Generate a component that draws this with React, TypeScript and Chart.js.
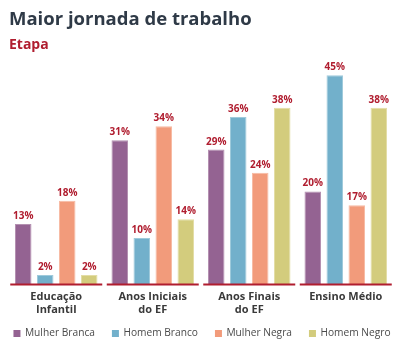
import React, { useEffect, useRef } from "react";
import { Chart, registerables } from "chart.js";

Chart.register(...registerables);

const categories: string[][] = [
  ["Educação", "Infantil"],
  ["Anos Iniciais", "do EF"],
  ["Anos Finais", "do EF"],
  ["Ensino Médio"],
];
const mulherBranca = [13, 31, 29, 20];
const homemBranco = [2, 10, 36, 45];
const mulherNegra = [18, 34, 24, 17];
const homemNegro = [2, 14, 38, 38];
const seriesNames = ["Mulher Branca", "Homem Branco", "Mulher Negra", "Homem Negro"];
const title = "Maior jornada de trabalho";
const subtitle = "Etapa";

const FONT = "'Open Sans', Lato, sans-serif";
const RED = "#b01d2f";

const fills = ["#946392", "#72b0cb", "#f29b7b", "#d3cc7d"];
const borders = ["#b491b1", "#9fcadb", "#f7bba4", "#e3dda6"];

const decorPlugin = {
  id: "decor",
  afterDraw(chart: any) {
    const { ctx, scales, chartArea, width } = chart;
    const x = scales.x;
    ctx.save();
    // title
    ctx.fillStyle = "#2f3a47";
    ctx.font = `bold 18.5px ${FONT}`;
    ctx.textBaseline = "alphabetic";
    ctx.textAlign = "left";
    ctx.fillText(title, 9, 25);
    ctx.fillStyle = RED;
    ctx.font = `bold 14px ${FONT}`;
    ctx.fillText(subtitle, 9, 48.5);
    // baseline segments
    ctx.strokeStyle = RED;
    ctx.lineWidth = 2;
    const half = 46;
    for (let i = 0; i < categories.length; i++) {
      const cx = x.getPixelForValue(i);
      ctx.beginPath();
      ctx.moveTo(cx - half, chartArea.bottom);
      ctx.lineTo(cx + half, chartArea.bottom);
      ctx.stroke();
    }
    // value labels
    ctx.font = `bold 10px ${FONT}`;
    ctx.fillStyle = RED;
    ctx.textAlign = "center";
    chart.data.datasets.forEach((ds: any, di: number) => {
      const meta = chart.getDatasetMeta(di);
      meta.data.forEach((bar: any, i: number) => {
        ctx.fillText(ds.data[i] + "%", bar.x, bar.y - 5);
      });
    });
    // legend
    ctx.font = `10.2px ${FONT}`;
    ctx.textAlign = "left";
    ctx.textBaseline = "middle";
    const box = 7;
    const gapText = 4.5;
    const gapItem = 17;
    const widths = seriesNames.map((n) => box + gapText + ctx.measureText(n).width);
    const total = widths.reduce((a, b) => a + b, 0) + gapItem * (seriesNames.length - 1);
    let lx = width / 2 + 1 - total / 2;
    const ly = 333.5;
    seriesNames.forEach((n, i) => {
      ctx.fillStyle = fills[i];
      ctx.fillRect(lx, ly - box / 2, box, box);
      ctx.fillStyle = "#4a4a4a";
      ctx.fillText(n, lx + box + gapText, ly);
      lx += widths[i] + gapItem;
    });
    ctx.restore();
  },
};

export default function App() {
  const ref = useRef<HTMLCanvasElement>(null);
  useEffect(() => {
    if (!ref.current) return;
    const allSeries = [mulherBranca, homemBranco, mulherNegra, homemNegro];
    const chart = new Chart(ref.current, {
      type: "bar",
      data: {
        labels: categories,
        datasets: allSeries.map((d, i) => ({
          label: seriesNames[i],
          data: d,
          backgroundColor: fills[i],
          borderColor: borders[i],
          borderWidth: 1,
          categoryPercentage: 0.912,
          barPercentage: 0.75,
        })),
      },
      options: {
        animation: false,
        responsive: true,
        maintainAspectRatio: false,
        layout: { padding: { top: 52, left: 8, right: 8, bottom: 27 } },
        scales: {
          y: { display: false, min: 0, max: 50 },
          x: {
            grid: { display: false, drawTicks: false },
            border: { display: false },
            ticks: {
              color: "#3a3a3a",
              font: { family: FONT, size: 11, weight: "bold", lineHeight: 1.21 },
              padding: 6,
              maxRotation: 0,
              autoSkip: false,
            },
          },
        },
        plugins: {
          legend: { display: false },
          tooltip: { enabled: false },
          title: { display: false },
        },
      },
      plugins: [decorPlugin],
    });
    return () => chart.destroy();
  }, []);
  return (
    <div style={{ position: "fixed", left: 0, top: 0, width: 402, height: 350, background: "#fff" }}>
      <canvas ref={ref} />
    </div>
  );
}
